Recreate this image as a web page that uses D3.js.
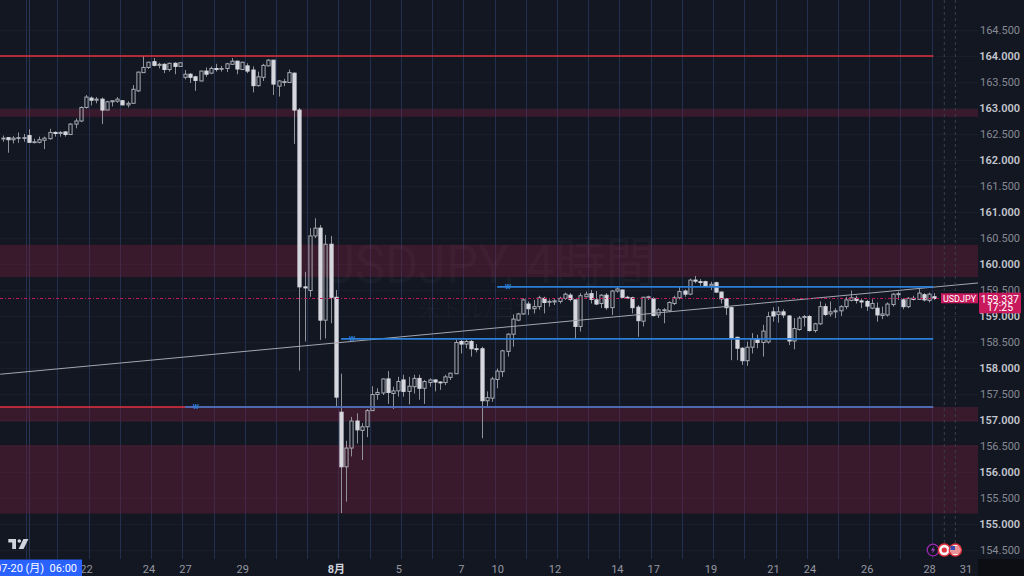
<!DOCTYPE html>
<html>
<head>
<meta charset="utf-8">
<script src="https://cdn.jsdelivr.net/npm/d3@7"></script>
<style>
html, body { margin: 0; padding: 0; background: #131722; overflow: hidden; }
text { font-family: Roboto, "Noto Sans", "Noto Sans CJK JP", sans-serif; }
</style>
</head>
<body>
<svg id="chart" width="1024" height="576"></svg>
<script>
// 4h candles, first one is index -5 (Fri 17 Jul 10:00), index 0 = Mon 20 Jul 06:00
const first_index = -5;
const open_prices = [
  162.41, 162.43, 162.39, 162.42, 162.43,
  162.47, 162.34, 162.34, 162.38, 162.41, 162.53, 162.51, 162.54, 162.49, 162.69,
  162.75, 163.01, 163.19, 163.15, 163.17, 162.96, 163.12, 163.13, 163.14, 163.06,
  163.09, 163.33, 163.68, 163.78, 163.89, 163.82, 163.84, 163.74, 163.86, 163.80,
  163.59, 163.65, 163.60, 163.52, 163.71, 163.67, 163.76, 163.75, 163.76, 163.84,
  163.90, 163.74, 163.81, 163.73, 163.43, 163.59, 163.81, 163.92, 163.42, 163.49,
  163.49, 163.67, 162.96, 159.56, 159.49, 160.54, 160.69, 158.92, 160.38, 159.36,
  157.15, 156.10, 156.46, 156.98, 156.80, 156.87, 157.18, 157.49, 157.52, 157.79,
  157.51, 157.56, 157.77, 157.55, 157.64, 157.80, 157.61, 157.72, 157.77, 157.73,
  157.72, 157.82, 157.89, 158.51, 158.46, 158.51, 158.37, 158.37, 157.37, 157.42,
  157.78, 157.93, 158.32, 158.65, 158.92, 159.04, 159.23, 159.14, 159.18, 159.34,
  159.27, 159.27, 159.28, 159.34, 159.40, 159.31, 158.80, 159.37, 159.43, 159.31,
  159.24, 159.40, 159.16, 159.48, 159.50, 159.36, 159.35, 159.17, 158.90, 159.35,
  159.33, 159.02, 159.11, 159.10, 159.24, 159.35, 159.48, 159.42, 159.69, 159.66,
  159.66, 159.58, 159.64, 159.46, 159.33, 159.16, 158.59, 158.38, 158.14, 158.40,
  158.56, 158.49, 158.50, 159.08, 159.03, 159.08, 159.00, 158.52, 158.74, 158.97,
  158.99, 158.72, 158.85, 159.18, 159.04, 159.08, 159.10, 159.18, 159.30, 159.34,
  159.29, 159.28, 159.15, 159.15, 159.01, 159.02, 159.22, 159.41, 159.31, 159.18,
  159.34, 159.32, 159.41, 159.30, 159.37
];
const high_prices = [
  162.47, 162.44, 162.46, 162.53, 162.50,
  162.59, 162.41, 162.45, 162.45, 162.60, 162.55, 162.56, 162.55, 162.71, 162.80,
  163.03, 163.25, 163.22, 163.21, 163.20, 163.14, 163.14, 163.21, 163.15, 163.13,
  163.44, 163.70, 164.00, 163.89, 163.96, 163.87, 163.86, 163.87, 163.88, 163.88,
  163.73, 163.67, 163.62, 163.72, 163.78, 163.80, 163.85, 163.81, 163.87, 163.96,
  163.91, 163.89, 163.86, 163.80, 163.70, 163.85, 163.94, 163.92, 163.54, 163.56,
  163.74, 163.68, 163.00, 159.85, 160.69, 160.88, 160.75, 160.56, 160.54, 159.50,
  157.89, 156.60, 157.06, 157.13, 156.94, 157.21, 157.65, 157.61, 157.80, 157.94,
  157.64, 157.83, 157.87, 157.83, 157.87, 157.87, 157.77, 157.80, 157.78, 157.74,
  157.87, 157.91, 158.54, 158.54, 158.55, 158.54, 158.46, 158.41, 157.55, 157.83,
  157.99, 158.35, 158.67, 159.03, 159.06, 159.34, 159.28, 159.31, 159.39, 159.37,
  159.32, 159.34, 159.37, 159.45, 159.44, 159.32, 159.44, 159.47, 159.50, 159.48,
  159.42, 159.44, 159.50, 159.56, 159.51, 159.39, 159.37, 159.21, 159.37, 159.39,
  159.36, 159.15, 159.15, 159.28, 159.39, 159.56, 159.51, 159.72, 159.77, 159.71,
  159.68, 159.66, 159.66, 159.47, 159.34, 159.18, 158.60, 158.40, 158.51, 158.67,
  158.64, 158.83, 159.08, 159.17, 159.18, 159.13, 159.02, 158.96, 159.00, 159.02,
  159.02, 158.87, 159.28, 159.24, 159.28, 159.15, 159.21, 159.37, 159.49, 159.39,
  159.34, 159.31, 159.32, 159.26, 159.18, 159.26, 159.44, 159.47, 159.34, 159.36,
  159.39, 159.53, 159.44, 159.45, 159.44
];
const low_prices = [
  162.35, 162.14, 162.32, 162.33, 162.35,
  162.33, 162.32, 162.32, 162.21, 162.39, 162.45, 162.45, 162.45, 162.48, 162.61,
  162.73, 162.99, 163.05, 163.09, 162.69, 162.96, 163.03, 163.10, 163.05, 163.01,
  163.09, 163.31, 163.68, 163.75, 163.80, 163.76, 163.67, 163.70, 163.65, 163.80,
  163.55, 163.48, 163.33, 163.51, 163.60, 163.65, 163.70, 163.70, 163.69, 163.83,
  163.65, 163.73, 163.67, 163.30, 163.41, 163.52, 163.80, 163.25, 163.22, 163.42,
  163.48, 162.31, 157.95, 158.51, 159.37, 160.50, 158.54, 158.57, 158.86, 157.26,
  155.21, 155.43, 156.30, 156.55, 156.23, 156.67, 157.18, 157.39, 157.48, 157.31,
  157.21, 157.45, 157.45, 157.30, 157.51, 157.39, 157.31, 157.64, 157.55, 157.58,
  157.67, 157.77, 157.89, 158.28, 158.38, 158.22, 158.30, 156.65, 157.23, 157.35,
  157.61, 157.83, 158.22, 158.41, 158.90, 159.02, 159.02, 159.05, 159.12, 159.05,
  159.18, 159.21, 159.24, 159.31, 159.28, 158.57, 158.70, 159.36, 159.24, 159.21,
  159.15, 159.12, 159.02, 159.45, 159.34, 159.35, 159.05, 158.60, 158.80, 159.31,
  158.99, 158.96, 158.86, 159.08, 159.21, 159.32, 159.37, 159.40, 159.63, 159.58,
  159.56, 159.50, 159.44, 159.24, 159.02, 158.15, 158.15, 158.06, 158.04, 158.28,
  158.38, 158.22, 158.47, 158.89, 158.87, 158.96, 158.44, 158.36, 158.72, 158.80,
  158.70, 158.68, 158.83, 159.00, 158.99, 158.96, 159.00, 159.13, 159.28, 159.24,
  159.15, 159.10, 159.13, 158.89, 158.94, 158.99, 159.18, 159.31, 159.13, 159.15,
  159.30, 159.31, 159.28, 159.26, 159.31
];
const close_prices = [
  162.42, 162.39, 162.42, 162.43, 162.43,
  162.34, 162.35, 162.39, 162.42, 162.53, 162.51, 162.53, 162.49, 162.69, 162.75,
  163.01, 163.21, 163.15, 163.17, 162.96, 163.12, 163.14, 163.17, 163.06, 163.09,
  163.36, 163.69, 163.78, 163.88, 163.82, 163.84, 163.74, 163.86, 163.80, 163.87,
  163.65, 163.59, 163.53, 163.71, 163.65, 163.76, 163.74, 163.76, 163.85, 163.90,
  163.75, 163.88, 163.71, 163.43, 163.60, 163.82, 163.92, 163.46, 163.52, 163.51,
  163.68, 162.96, 159.56, 159.54, 160.54, 160.69, 158.92, 160.38, 159.36, 157.44,
  156.10, 156.46, 156.98, 156.81, 156.87, 157.18, 157.49, 157.53, 157.79, 157.53,
  157.56, 157.74, 157.55, 157.65, 157.80, 157.61, 157.74, 157.77, 157.73, 157.72,
  157.83, 157.90, 158.49, 158.46, 158.51, 158.37, 158.36, 157.37, 157.43, 157.79,
  157.94, 158.33, 158.65, 158.94, 159.04, 159.31, 159.14, 159.18, 159.35, 159.26,
  159.28, 159.29, 159.34, 159.42, 159.32, 158.80, 159.39, 159.42, 159.32, 159.23,
  159.40, 159.16, 159.48, 159.52, 159.36, 159.35, 159.16, 158.91, 159.36, 159.37,
  159.01, 159.12, 159.12, 159.26, 159.35, 159.47, 159.42, 159.69, 159.67, 159.65,
  159.58, 159.61, 159.46, 159.33, 159.16, 158.57, 158.38, 158.14, 158.40, 158.56,
  158.49, 158.71, 158.99, 159.00, 159.08, 159.02, 158.52, 158.76, 158.96, 158.99,
  158.72, 158.85, 159.18, 159.03, 159.08, 159.10, 159.18, 159.31, 159.35, 159.30,
  159.27, 159.19, 159.24, 159.02, 159.04, 159.23, 159.42, 159.43, 159.18, 159.34,
  159.32, 159.44, 159.31, 159.42, 159.337
];

const price_ticks = [154.5, 155, 155.5, 156, 156.5, 157, 157.5, 158, 158.5, 159, 159.5,
  160, 160.5, 161, 161.5, 162, 162.5, 163, 163.5, 164, 164.5];
const time_tick_idx = [11, 23, 30, 41, 59, 71, 83, 90, 101, 113, 120, 131, 143, 150, 161, 173, 180];
const time_tick_labels = ["22", "24", "27", "29", "8月", "5", "7", "10", "12", "14", "17", "19",
  "21", "24", "26", "28", "31"];

// support / resistance zones (top, bottom)
const zone_tops = [162.98, 160.37, 157.25, 156.52];
const zone_bottoms = [162.83, 159.75, 156.97, 155.20];
// horizontal lines
const red_levels = [164.0, 157.25];
const blue_levels = [157.25, 158.56, 159.56];
const blue_starts = [30, 60, 90];
const line_end = 173.8;
// rising trend line (bar index, price)
const trend_idx = [-5.5, 182.4];
const trend_price = [157.88, 159.635];

const last_price = 159.337;
const countdown = "17:25";
const symbol = "USDJPY";

const width = 1024, height = 576;
const plot_w = 978, plot_h = 559;
const bg = "#131722";

const svg = d3.select("#chart");
const x = d3.scaleLinear().domain([0, 174]).range([28.8, 934.3]);
const y = d3.scaleLinear().domain([154.5, 164.5]).range([550, 30]);
const bar_w = 3.2;

svg.append("rect").attr("width", width).attr("height", height).attr("fill", bg);

svg.append("defs").append("clipPath").attr("id", "plot_clip")
    .append("rect").attr("width", plot_w).attr("height", plot_h);
const plot = svg.append("g").attr("clip-path", "url(#plot_clip)");

// faint horizontal grid
plot.selectAll("line.hgrid")
    .data(price_ticks)
    .join("line")
    .attr("x1", 0).attr("x2", plot_w)
    .attr("y1", d => Math.round(y(d)) + 0.5)
    .attr("y2", d => Math.round(y(d)) + 0.5)
    .attr("stroke", "#1a1e2b");

// session breaks every 6 bars (06:00 JST)
plot.selectAll("line.session")
    .data(d3.range(0, 175, 6))
    .join("line")
    .attr("x1", d => Math.round(x(d - 0.5)) + 0.5)
    .attr("x2", d => Math.round(x(d - 0.5)) + 0.5)
    .attr("y1", 0).attr("y2", plot_h)
    .attr("stroke", "#22304f")
    .attr("stroke-width", 1);

// crosshair vertical
plot.append("line")
    .attr("x1", Math.round(x(0)) + 0.5).attr("x2", Math.round(x(0)) + 0.5)
    .attr("y1", 0).attr("y2", plot_h)
    .attr("stroke", "#2a3656").attr("stroke-width", 1);

// zones
plot.selectAll("rect.zone")
    .data(zone_tops)
    .join("rect")
    .attr("x", 0)
    .attr("y", d => y(d))
    .attr("width", plot_w)
    .attr("height", (d, k) => y(zone_bottoms[k]) - y(d))
    .attr("fill", "rgba(120, 30, 60, 0.38)");

// watermark
plot.append("text")
    .attr("x", plot_w / 2).attr("y", 283)
    .attr("text-anchor", "middle")
    .attr("font-size", 54)
    .attr("textLength", 334)
    .attr("lengthAdjust", "spacingAndGlyphs")
    .attr("fill", "#ffffff").attr("fill-opacity", 0.028)
    .text("USDJPY, 4時間");
plot.append("text")
    .attr("x", plot_w / 2).attr("y", 317)
    .attr("text-anchor", "middle")
    .attr("font-size", 22)
    .attr("fill", "#ffffff").attr("fill-opacity", 0.03)
    .text("米ドル/日本円");

// candles
const candles = open_prices.map((o, k) => {
    const c = close_prices[k];
    return {
        i: k + first_index,
        o: o,
        c: c,
        h: Math.max(high_prices[k], o, c),
        l: Math.min(low_prices[k], o, c)
    };
});

const candle_g = plot.append("g");
candle_g.selectAll("path.wick")
    .data(candles)
    .join("path")
    .attr("d", d => {
        const cx = Math.round(x(d.i)) + 0.5;
        const top = y(Math.max(d.o, d.c)), bot = y(Math.min(d.o, d.c));
        return `M${cx},${y(d.h)}V${top}M${cx},${bot}V${y(d.l)}`;
    })
    .attr("stroke", "#8f929b")
    .attr("stroke-width", 1)
    .attr("fill", "none");

candle_g.selectAll("rect.body")
    .data(candles)
    .join("rect")
    .attr("x", d => Math.round(x(d.i)) + 0.5 - bar_w / 2)
    .attr("y", d => y(Math.max(d.o, d.c)))
    .attr("width", bar_w)
    .attr("height", d => Math.max(0.8, y(Math.min(d.o, d.c)) - y(Math.max(d.o, d.c))))
    .attr("fill", d => d.c >= d.o ? "none" : "#d6d8de")
    .attr("stroke", d => d.c >= d.o ? "#a9acb4" : "#d6d8de")
    .attr("stroke-width", 1);

// trend line
plot.append("line")
    .attr("x1", x(trend_idx[0])).attr("y1", y(trend_price[0]))
    .attr("x2", x(trend_idx[1])).attr("y2", y(trend_price[1]))
    .attr("stroke", "#a3a6ae").attr("stroke-width", 1);

// red horizontal lines
plot.selectAll("line.red")
    .data(red_levels)
    .join("line")
    .attr("x1", 0).attr("x2", x(line_end))
    .attr("y1", d => y(d)).attr("y2", d => y(d))
    .attr("stroke", "#e5323f").attr("stroke-width", 1.6);

// blue horizontal lines
plot.selectAll("line.blue")
    .data(blue_levels)
    .join("line")
    .attr("x1", (d, k) => x(blue_starts[k])).attr("x2", x(line_end))
    .attr("y1", d => y(d)).attr("y2", d => y(d))
    .attr("stroke", "#2b7fd8").attr("stroke-width", 1.6);

plot.selectAll("text.wlabel")
    .data(blue_levels)
    .join("text")
    .attr("x", (d, k) => x(blue_starts[k]) + 11)
    .attr("y", d => y(d))
    .attr("dy", "0.35em")
    .attr("text-anchor", "middle")
    .attr("font-size", 7)
    .attr("font-weight", "bold")
    .attr("fill", "#2b7fd8")
    .text("W");

// last price dotted line
plot.append("line")
    .attr("x1", 0).attr("x2", 941)
    .attr("y1", Math.round(y(last_price)) + 0.5).attr("y2", Math.round(y(last_price)) + 0.5)
    .attr("stroke", "#c2185b")
    .attr("stroke-width", 1)
    .attr("stroke-dasharray", "3,2,1,2");

// event dashed lines
plot.selectAll("line.event")
    .data([944.3, 955.3])
    .join("line")
    .attr("x1", d => d).attr("x2", d => d)
    .attr("y1", 0).attr("y2", 543)
    .attr("stroke", "#3b3f4b").attr("stroke-dasharray", "3,3");

// price axis
const y_axis = svg.append("g")
    .attr("transform", "translate(1020,0)")
    .call(d3.axisRight(y).tickValues(price_ticks).tickSize(0).tickFormat(d => d.toFixed(3)));
y_axis.select(".domain").remove();
y_axis.selectAll("text")
    .attr("x", 0)
    .attr("text-anchor", "end")
    .attr("font-size", 11)
    .attr("font-family", "Roboto, 'Noto Sans', sans-serif")
    .attr("font-weight", d => d % 1 === 0 ? 600 : 400)
    .attr("fill", d => d % 1 === 0 ? "#c3c6ce" : "#868993");

// time axis
const x_axis = svg.append("g")
    .attr("transform", `translate(0,${plot_h})`)
    .call(d3.axisBottom(x).tickValues(time_tick_idx).tickSize(0)
        .tickFormat((d, k) => time_tick_labels[k]));
x_axis.select(".domain").remove();
x_axis.selectAll("text")
    .attr("y", 6)
    .attr("font-size", 11)
    .attr("font-family", "Roboto, 'Noto Sans CJK JP', sans-serif")
    .attr("font-weight", (d, k) => time_tick_labels[k] === "8月" ? 700 : 400)
    .attr("fill", (d, k) => time_tick_labels[k] === "8月" ? "#d1d4dc" : "#9598a1");

// corner under price axis
svg.append("rect")
    .attr("x", plot_w).attr("y", plot_h)
    .attr("width", width - plot_w).attr("height", height - plot_h)
    .attr("fill", "#0c0e14");

// symbol + price labels
svg.append("rect")
    .attr("x", 941).attr("y", 293.3).attr("width", plot_w - 941).attr("height", 10)
    .attr("fill", "#c8195d");
svg.append("text")
    .attr("x", 959.5).attr("y", 298.5).attr("dy", "0.35em")
    .attr("text-anchor", "middle").attr("font-size", 9).attr("fill", "#ffffff")
    .text(symbol);
svg.append("rect")
    .attr("x", 979).attr("y", 292.7).attr("width", 42).attr("height", 20.6)
    .attr("fill", "#c8195d");
svg.append("text")
    .attr("x", 1019).attr("y", 299).attr("dy", "0.35em")
    .attr("text-anchor", "end").attr("font-size", 10.5).attr("fill", "#ffffff")
    .text(last_price.toFixed(3));
svg.append("text")
    .attr("x", 1000).attr("y", 307.8).attr("dy", "0.35em")
    .attr("text-anchor", "middle").attr("font-size", 10.5).attr("fill", "#ffffff")
    .text(countdown);

// event icons
const ev_y = 550;
svg.append("circle").attr("cx", 933).attr("cy", ev_y).attr("r", 5.8)
    .attr("fill", bg).attr("stroke", "#9c27b0").attr("stroke-width", 1.3);
svg.append("path")
    .attr("d", `M934.2,${ev_y - 4}L930.8,${ev_y + 0.6}H933L931.8,${ev_y + 4}L935.2,${ev_y - 0.8}H933Z`)
    .attr("fill", "#a63fc2");
svg.append("circle").attr("cx", 944.3).attr("cy", ev_y).attr("r", 6)
    .attr("fill", "#f5f5f5").attr("stroke", "#e0323e").attr("stroke-width", 1.5);
svg.append("circle").attr("cx", 944.3).attr("cy", ev_y).attr("r", 2.6).attr("fill", "#e0323e");
const us = svg.append("g");
us.append("circle").attr("cx", 955.3).attr("cy", ev_y).attr("r", 6)
    .attr("fill", "#f5f5f5").attr("stroke", "#e0323e").attr("stroke-width", 1.5);
us.selectAll("rect.stripe")
    .data([-3, -1, 1, 3])
    .join("rect")
    .attr("x", 950.5).attr("y", d => ev_y + d - 0.5)
    .attr("width", 9.6).attr("height", 1)
    .attr("fill", "#e0323e");
us.append("rect").attr("x", 950.5).attr("y", ev_y - 4).attr("width", 4.5).attr("height", 4)
    .attr("fill", "#3a4bb0");

// logo
const logo = svg.append("g").attr("fill", "#d1d4dc");
logo.append("path").attr("d", "M8.3,539H16V549H12.2V542.6H8.3Z");
logo.append("circle").attr("cx", 19.3).attr("cy", 541).attr("r", 1.8);
logo.append("path").attr("d", "M23.4,539H28.4L23.6,549H18.6Z");

// crosshair time label
svg.append("rect").attr("x", 0).attr("y", 559.5).attr("width", 82).attr("height", 16.5)
    .attr("fill", "#2962ff");
svg.append("text")
    .attr("x", 77).attr("y", 568).attr("dy", "0.35em")
    .attr("text-anchor", "end").attr("font-size", 11).attr("fill", "#ffffff")
    .attr("font-family", "Roboto, 'Noto Sans CJK JP', sans-serif")
    .attr("xml:space", "preserve")
    .text("2026-07-20 (月)  06:00");
</script>
</body>
</html>
